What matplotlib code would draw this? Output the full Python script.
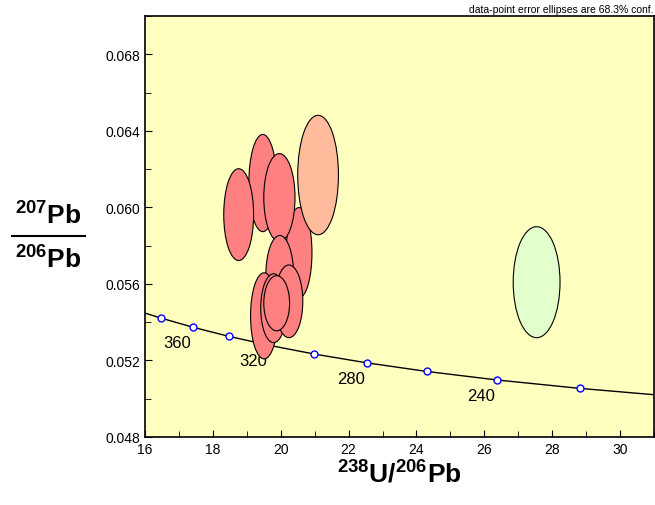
import matplotlib
matplotlib.use('Agg')
import matplotlib.pyplot as plt
from matplotlib.patches import Ellipse
from matplotlib.ticker import MultipleLocator, FormatStrFormatter

plt.rcParams['font.family'] = ['Liberation Sans', 'DejaVu Sans']
plt.rcParams['mathtext.fontset'] = 'custom'
plt.rcParams['mathtext.rm'] = 'Liberation Sans:bold'
plt.rcParams['mathtext.bf'] = 'Liberation Sans:bold'

#------------------------------------------------------------------------------
# concordia curve (238U/206Pb, 207Pb/206Pb) and age marks
curve_x = [16.0, 16.469, 17.411, 18.464, 19.649, 20.992, 22.527, 24.297, 26.363, 28.805, 31.0]
curve_y = [0.054475, 0.054215, 0.053736, 0.053263, 0.052795, 0.052333, 0.051878, 0.051427, 0.050982, 0.050542, 0.050210]
mark_ages = [380, 360, 340, 320, 300, 280, 260, 240, 220]
mark_x = [16.469, 17.411, 18.464, 19.649, 20.992, 22.527, 24.297, 26.363, 28.805]
mark_y = [0.054215, 0.053736, 0.053263, 0.052795, 0.052333, 0.051878, 0.051427, 0.050982, 0.050542]
label_ages = [360, 320, 280, 240]

# data-point error ellipses (centre, half-axes), drawn back to front
ell_x  = [20.54, 19.47, 18.76, 19.96, 19.97, 19.51, 19.79, 20.24, 19.88, 21.10, 27.54]
ell_y  = [0.05763, 0.06127, 0.05962, 0.06051, 0.05643, 0.05433, 0.05473, 0.05509, 0.05499, 0.06169, 0.05609]
ell_sx = [0.38, 0.41, 0.44, 0.46, 0.41, 0.40, 0.38, 0.41, 0.38, 0.60, 0.69]
ell_sy = [0.00236, 0.00254, 0.00240, 0.00230, 0.00210, 0.00225, 0.00180, 0.00190, 0.00144, 0.00312, 0.00290]
ell_col = ['#FF8080'] * 9 + ['#FFBB9C', '#E2FFCC']

#------------------------------------------------------------------------------
def main():
  fig = plt.figure(figsize=(6.55, 5.06), dpi=100)
  ax = fig.add_axes([0.2214, 0.1344, 0.7771, 0.832])
  ax.set_facecolor('#FFFFC0')

  ax.plot(curve_x, curve_y, color='black', lw=1.0, zorder=2)
  ax.plot(mark_x, mark_y, 'o', ms=5, mfc='white', mec='blue', mew=1.0, zorder=3)
  for age, x, y in zip(mark_ages, mark_x, mark_y):
    if age in label_ages:
      ax.annotate(str(age), (x, y), xytext=(-2, -8), textcoords='offset pixels',
                  ha='right', va='top', fontsize=12, zorder=3)

  for x, y, sx, sy, c in zip(ell_x, ell_y, ell_sx, ell_sy, ell_col):
    ax.add_patch(Ellipse((x, y), 2 * sx, 2 * sy, facecolor=c, edgecolor='black',
                         lw=0.8, zorder=4))

  ax.set_xlim(16, 31)
  ax.set_ylim(0.048, 0.070)
  ax.xaxis.set_major_locator(MultipleLocator(2))
  ax.xaxis.set_minor_locator(MultipleLocator(1))
  ax.yaxis.set_major_locator(MultipleLocator(0.004))
  ax.yaxis.set_minor_locator(MultipleLocator(0.002))
  ax.yaxis.set_major_formatter(FormatStrFormatter('%.3f'))
  ax.tick_params(which='both', direction='in', labelsize=10, top=False, right=False)
  ax.tick_params(which='major', length=5)
  ax.tick_params(which='minor', length=4)
  for s in ax.spines.values():
    s.set_linewidth(1.2)

  ax.set_xlabel(r'$^{238}$U/$^{206}$Pb', fontsize=19, fontweight='bold', labelpad=2)

  fig.text(0.073, 0.575, r'$^{207}$Pb', fontsize=19, fontweight='bold', ha='center', va='center')
  fig.text(0.073, 0.489, r'$^{206}$Pb', fontsize=19, fontweight='bold', ha='center', va='center')
  fig.add_artist(plt.Line2D([0.018, 0.130], [0.531, 0.531], color='black', lw=1.5))

  fig.text(0.997, 0.991, 'data-point error ellipses are 68.3% conf.', fontsize=7.5,
           ha='right', va='top')

  fig.savefig('out.png', dpi=100)

#------------------------------------------------------------------------------
if __name__ == '__main__':
  main()
